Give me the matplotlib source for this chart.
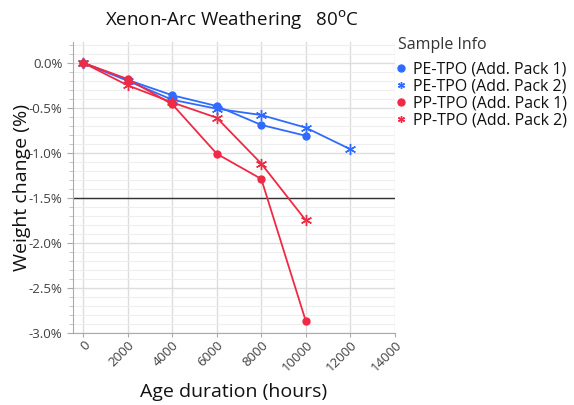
import matplotlib
matplotlib.use("Agg")
import matplotlib.pyplot as plt
from matplotlib.ticker import MultipleLocator, FuncFormatter

plt.rcParams['font.family'] = ['Open Sans', 'DejaVu Sans']

hours_pe1 = [0, 2000, 4000, 6000, 8000, 10000]
pe1 = [0.0, -0.19, -0.36, -0.48, -0.69, -0.81]
hours_pe2 = [0, 2000, 4000, 6000, 8000, 10000, 12000]
pe2 = [0.0, -0.20, -0.41, -0.51, -0.58, -0.72, -0.96]
hours_pp1 = [0, 2000, 4000, 6000, 8000, 10000]
pp1 = [0.0, -0.18, -0.46, -1.01, -1.29, -2.87]
hours_pp2 = [0, 2000, 4000, 6000, 8000, 10000]
pp2 = [0.0, -0.25, -0.44, -0.61, -1.12, -1.75]
labels = ["PE-TPO (Add. Pack 1)", "PE-TPO (Add. Pack 2)",
          "PP-TPO (Add. Pack 1)", "PP-TPO (Add. Pack 2)"]
x_ticks = [0, 2000, 4000, 6000, 8000, 10000, 12000, 14000]
ref_line = -1.5

blue = "#2f6bff"
red = "#ee2a45"

W, H = 574, 405
fig = plt.figure(figsize=(W / 100, H / 100), dpi=100)
ax = fig.add_axes([0.127, 0.178, 0.561, 0.718])

ax.plot(hours_pe1, pe1, color=blue, marker='o', ms=5, lw=1.3, label=labels[0])
ax.plot(hours_pe2, pe2, color=blue, marker=(6, 2, 0), ms=8, mew=1.0, lw=1.3, label=labels[1])
ax.plot(hours_pp1, pp1, color=red, marker='o', ms=5, lw=1.3, label=labels[2])
ax.plot(hours_pp2, pp2, color=red, marker=(6, 2, 0), ms=8, mew=1.0, lw=1.3, label=labels[3])
ax.axhline(ref_line, color="#333333", lw=1.0, zorder=1)

ax.set_xlim(-460, 14000)
ax.set_ylim(-3.0, 0.23)
ax.set_xticks(x_ticks)
ax.set_xticklabels([str(t) for t in x_ticks], rotation=45, ha='right',
                   rotation_mode='anchor', fontsize=9.5, color="#404040")
ax.yaxis.set_major_locator(MultipleLocator(0.5))
ax.yaxis.set_minor_locator(MultipleLocator(0.1))
ax.yaxis.set_major_formatter(FuncFormatter(lambda v, p: f"{v:.1f}%"))
ax.tick_params(axis='y', labelsize=9.5, colors="#404040", length=4, color="#aaaaaa")
ax.tick_params(axis='y', which='minor', length=3, color="#bbbbbb")
ax.tick_params(axis='x', length=3, pad=1, color="#aaaaaa")

ax.grid(True, which='major', color="#dddddd", lw=1.0, zorder=0)
ax.grid(True, which='minor', axis='y', color="#eeeeee", lw=0.8, zorder=0)
ax.set_axisbelow(True)
for s in ['top', 'right']:
    ax.spines[s].set_visible(False)
for s in ['left', 'bottom']:
    ax.spines[s].set_color("#aaaaaa")

ax.set_ylabel("Weight change (%)", fontsize=14, color="#111111")
ax.yaxis.set_label_coords(-0.13, 0.5)
ax.set_xlabel("Age duration (hours)", fontsize=14, color="#111111")
ax.xaxis.label.set_va('baseline')
ax.xaxis.set_label_coords(0.5, -0.222)
fig.text(232 / W, 1 - 20 / H, "Xenon-Arc Weathering   80$^{\\mathrm{o}}$C",
         ha='center', va='center', fontsize=13.5, color="#111111")

fig.text(398 / W, 1 - 45 / H, "Sample Info", ha='left', va='center',
         fontsize=11.5, color="#333333")
leg = fig.legend(loc='upper left', bbox_to_anchor=(396 / W, 1 - 62 / H), frameon=False,
                 fontsize=11.5, handlelength=0.6, handletextpad=0.45,
                 labelspacing=0.05, borderaxespad=0, borderpad=0)
for h in leg.legend_handles:
    h.set_linestyle('None')
    h.set_markersize(5)
for t in leg.get_texts():
    t.set_color("#111111")

fig.savefig("out.png", dpi=100)
